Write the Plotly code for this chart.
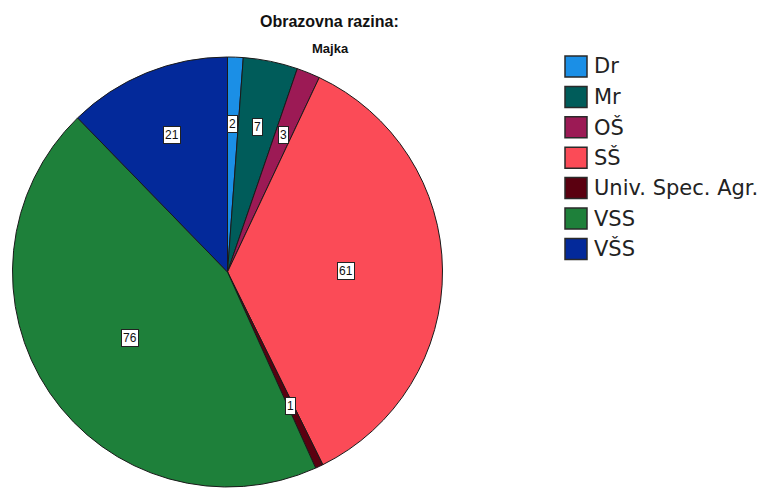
import math
import plotly.graph_objects as go

# ---- data ----
categories = ["Dr", "Mr", "OŠ", "SŠ", "Univ. Spec. Agr.", "VSS", "VŠS"]
counts = [2, 7, 3, 61, 1, 76, 21]
colors = ["#1b8fe6", "#005c5a", "#9c1a55", "#fb4b57", "#5a0010", "#1e803a", "#03299a"]
title_text = "Obrazovna razina:"
subtitle_text = "Majka"

W, H = 766, 488
FONT = "Liberation Sans, Arial, sans-serif"
# pie domain in pixels
dom_x = (10, 445)
dom_y_top, dom_y_bot = 57, 487


def px_x(p):
    return p / W


def px_y(p):
    return 1 - p / H


fig = go.Figure()
fig.add_trace(go.Pie(
    labels=categories, values=counts, sort=False, direction="clockwise",
    marker=dict(colors=colors, line=dict(color="#1a1a1a", width=1)),
    textinfo="none", hoverinfo="label+value", showlegend=False,
    domain=dict(x=[px_x(dom_x[0]), px_x(dom_x[1])], y=[px_y(dom_y_bot), px_y(dom_y_top)]),
))

annotations = []
shapes = []

# boxed value labels placed from data-derived slice angles
cx = (dom_x[0] + dom_x[1]) / 2
cy = (dom_y_top + dom_y_bot) / 2
r = min(dom_x[1] - dom_x[0], dom_y_bot - dom_y_top) / 2
total = sum(counts)
cum = 0
for v in counts:
    mid = (cum + v / 2) / total * 2 * math.pi
    cum += v
    f = 0.55 if v > 30 else 0.69
    lx = cx + r * f * math.sin(mid)
    ly = cy - r * f * math.cos(mid)
    annotations.append(dict(
        x=px_x(lx), y=px_y(ly), xref="paper", yref="paper", xanchor="center", yanchor="middle",
        text=str(v), showarrow=False,
        font=dict(family=FONT, size=12, color="#111"),
        bgcolor="white", bordercolor="#222", borderwidth=1, borderpad=1,
    ))

# titles
annotations.append(dict(x=px_x(329), y=px_y(21), xref="paper", yref="paper", showarrow=False,
                        xanchor="center", yanchor="middle",
                        text="<b>" + title_text + "</b>",
                        font=dict(family=FONT, size=16, color="#111")))
annotations.append(dict(x=px_x(330), y=px_y(48), xref="paper", yref="paper", showarrow=False,
                        xanchor="center", yanchor="middle",
                        text="<b>" + subtitle_text + "</b>",
                        font=dict(family=FONT, size=13, color="#111")))

# legend (drawn manually for large swatches)
leg_x0, leg_y0, sw, step = 565, 56, 22, 30.4
for i, (c, col) in enumerate(zip(categories, colors)):
    top = leg_y0 + i * step
    shapes.append(dict(type="rect", xref="paper", yref="paper",
                       x0=px_x(leg_x0), x1=px_x(leg_x0 + sw), y0=px_y(top + sw - 1), y1=px_y(top),
                       fillcolor=col, line=dict(color="#2a2a2a", width=1.5)))
    annotations.append(dict(x=px_x(leg_x0 + sw + 5), y=px_y(top + (sw - 1) / 2), xref="paper", yref="paper",
                            xanchor="left", yanchor="middle", showarrow=False, text=c,
                            font=dict(family="DejaVu Sans, sans-serif", size=21, color="#222")))

fig.update_layout(
    width=W, height=H, margin=dict(l=0, r=0, t=0, b=0),
    paper_bgcolor="white", plot_bgcolor="white",
    annotations=annotations, shapes=shapes, showlegend=False,
)

fig.write_html("out.html", config={"displayModeBar": False},
               post_script="document.body.style.margin='0';")
